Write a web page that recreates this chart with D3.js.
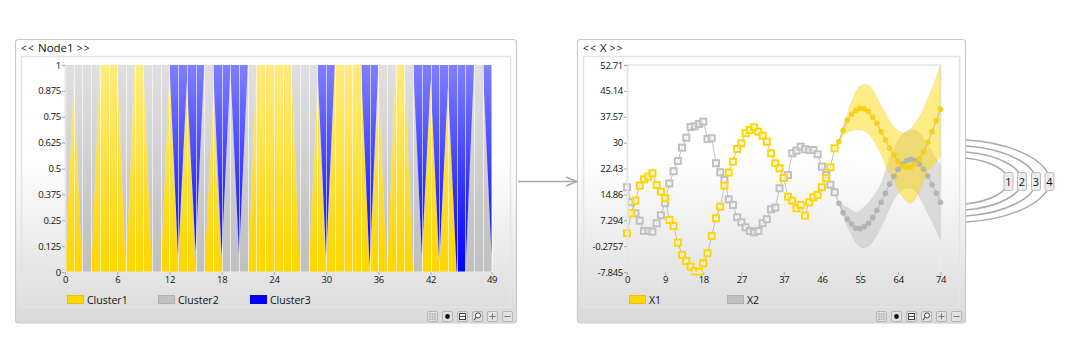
<!DOCTYPE html>
<html><head><meta charset="utf-8">
<script src="https://cdn.jsdelivr.net/npm/d3@7"></script>
<style>html,body{margin:0;padding:0;background:#fff}svg{display:block}text{font-family:"Open Sans","Noto Sans",sans-serif;fill:#111}</style>
</head><body><svg id="c" width="1070" height="363"></svg>
<script>
const cluster1=[0,.93,0,0,1,1,1,0,1,1,0,0,.98,0,.92,0,0,.82,0,0,0,0,1,1,1,1,1,0,0,.9,0,1,1,1,1,0,.92,0,1,1,0,0,.93,0,.9,0,0,0,0,0];
const cluster2=[1,.07,1,1,0,0,0,1,0,0,1,1,.02,.07,0,.1,1,.18,.08,.98,.08,1,0,0,0,0,0,1,1,.1,.07,0,0,0,0,.03,.08,1,0,0,1,.08,0,.05,0,0,0,1,1,.08];
const cluster3=[0,0,0,0,0,0,0,0,0,0,0,0,0,.93,.08,.9,0,0,.92,.02,.92,0,0,0,0,0,0,0,0,0,.93,0,0,0,0,.97,0,0,0,0,0,.92,.07,.95,.1,1,1,0,0,.92];
const clusterNames=["Cluster1","Cluster2","Cluster3"];
const clusterColors=["#FFD700","#C0C0C0","#0000FF"];
const clusterYTicks=[[0,"0"],[.125,"0.125"],[.25,"0.25"],[.375,"0.375"],[.5,"0.5"],[.625,"0.625"],[.75,"0.75"],[.875,"0.875"],[1,"1"]];
const clusterXTicks=[0,6,12,18,24,30,36,42,49];

const x1Values=[3.49,9.34,13.03,17.41,19.28,20.05,21.04,17.62,15.66,13.73,7.38,5.62,.74,-2.86,-4.61,-6.28,-7.63,-7.74,-5.29,-2.36,2.70,7.88,11.27,17.41,21.27,24.43,28.15,29.81,32.74,33.70,34.49,33.21,32.04,30.28,26.89,23.97,22.50,19.67,14.20,13.03,10.80,11.77,8.64,12.56,14.02,14.69,16.94,19.58,22.80,28.35,30.28,33.50,36.63,38.30,39.47,40.05,39.93,39.06,37.42,35.66,33.21,30.78,28.35,26.39,24.43,23.17,22.68,22.80,23.76,25.22,27.36,30.11,33.21,36.42,39.76];
const x2Values=[16.95,12.56,9.34,7.18,4.16,4.16,3.96,6.41,8.75,12.27,18.06,21.63,24.64,28.53,31.45,34.58,34.79,35.46,36.13,31.07,31.28,23.97,21.33,19.08,13.43,11.77,8.17,6.71,5.24,4.16,3.78,4.16,6.41,7.58,10.51,10.98,16.65,19.67,20.54,26.89,27.65,28.82,28.06,27.86,27.86,26.60,22.97,20.54,17.71,15.48,12.27,9.52,7.67,6.21,4.95,4.84,5.42,6.41,8.05,10.22,12.56,15.19,17.91,20.13,22.21,23.76,24.73,25.14,24.73,23.76,22.21,20.25,17.76,15.19,12.56];
const x1Upper=[30.28,34.87,38.59,41.98,44.91,46.58,47.07,46.78,45.41,43.27,40.73,38.59,36.34,34.67,33.50,32.91,32.91,34.20,35.66,37.60,40.05,42.98,45.90,49.30,52.71];
const x1Lower=[30.28,31.95,32.91,33.50,33.70,33.70,33.41,32.53,30.98,29.02,26.39,23.47,20.84,18.88,16.16,14.20,12.73,12.26,13.43,15.66,18.58,21.42,22.88,24.35,25.90];
const x2Upper=[12.27,11.77,11.09,10.30,9.52,10.10,11.27,12.44,14.02,15.86,18.11,21.71,25.42,28.35,30.78,32.53,33.41,33.70,33.70,32.91,31.28,29.32,27.36,25.14,23.47];
const x2Lower=[12.27,8.84,5.42,2.99,.74,-.43,-.72,-.23,1.03,2.99,5.42,7.88,10.80,13.23,14.98,16.16,16.65,16.65,15.95,14.20,11.77,9.34,6.88,4.25,1.53];
const firstPredicted=50;
const xTicksRight=[0,9,18,27,37,46,55,64,74];
const yTicksRight=[[-7.845,"-7.845"],[-.2757,"-0.2757"],[7.294,"7.294"],[14.86,"14.86"],[22.43,"22.43"],[30,"30"],[37.57,"37.57"],[45.14,"45.14"],[52.71,"52.71"]];
const seriesNames=["X1","X2"];
const seriesColors=["#FFD700","#C0C0C0"];
const outputLabels=["1","2","3","4"];

const svg=d3.select("#c"), defs=svg.append("defs");
const pg=defs.append("linearGradient").attr("id","panelBg").attr("x1",0).attr("x2",0).attr("y1",0).attr("y2",1);
pg.append("stop").attr("offset","0.42").attr("stop-color","#fff");
pg.append("stop").attr("offset","1").attr("stop-color","#dadada");
clusterColors.forEach((c,i)=>{
  const g=defs.append("linearGradient").attr("id","g"+i).attr("gradientUnits","userSpaceOnUse").attr("x1",0).attr("x2",0).attr("y1",65).attr("y2",272);
  g.append("stop").attr("offset",0).attr("stop-color",c).attr("stop-opacity",.5);
  g.append("stop").attr("offset",1).attr("stop-color",c).attr("stop-opacity",1);
});

function panel(px,pw,name){
  const g=svg.append("g");
  g.append("rect").attr("x",px+.5).attr("y",39.5).attr("width",pw-1).attr("height",283.5).attr("rx",3).attr("fill","url(#panelBg)").attr("stroke","#c9c9c9").attr("stroke-width",1.2);
  g.append("rect").attr("x",px+6.5).attr("y",56.5).attr("width",pw-13).attr("height",251).attr("fill","none").attr("stroke","#e4e4e4").attr("stroke-width",1.5);
  g.append("text").attr("x",px+6).attr("y",51.5).attr("font-size",10).attr("letter-spacing","1.5").text("<<");
  const nameText=g.append("text").attr("x",px+23).attr("y",51.5).attr("font-size",11.5).text(name);
  const nw=nameText.node().getComputedTextLength();
  g.append("text").attr("x",px+23+nw+3).attr("y",51.5).attr("font-size",10).attr("letter-spacing","1.5").text(">>");
  const bx=px+pw-90;
  ["grid","dot","split","find","plus","minus"].forEach((k,i)=>{
    const x=bx+i*15, y=311;
    const b=g.append("g").attr("transform",`translate(${x},${y})`);
    b.append("rect").attr("x",.5).attr("y",.5).attr("width",10).attr("height",10).attr("rx",1.5).attr("fill","#e2e2e2").attr("stroke","#b4b4b4");
    const dk="#777";
    if(k=="grid"){[3,5.5,8].forEach(a=>[3,5.5,8].forEach(c=>b.append("rect").attr("x",a-.8).attr("y",c-.8).attr("width",1.6).attr("height",1.6).attr("fill","#aaa")));}
    if(k=="dot")b.append("circle").attr("cx",5.5).attr("cy",5.5).attr("r",2.4).attr("fill","#111");
    if(k=="split"){b.append("rect").attr("x",2.5).attr("y",2.5).attr("width",6).attr("height",6).attr("fill","#fff").attr("stroke","#444");b.append("line").attr("x1",2).attr("x2",9).attr("y1",5.5).attr("y2",5.5).attr("stroke","#444");}
    if(k=="find"){b.append("circle").attr("cx",6).attr("cy",4.5).attr("r",2.6).attr("fill","#fff").attr("stroke","#444");b.append("line").attr("x1",4).attr("y1",6.5).attr("x2",2).attr("y2",9).attr("stroke","#444").attr("stroke-width",1.2);}
    if(k=="plus"||k=="minus")b.append("line").attr("x1",2.5).attr("x2",8.5).attr("y1",5.5).attr("y2",5.5).attr("stroke",dk);
    if(k=="plus")b.append("line").attr("x1",5.5).attr("x2",5.5).attr("y1",2.5).attr("y2",8.5).attr("stroke",dk);
  });
}
function legend(items,colors,xs){
  items.forEach((n,i)=>{
    svg.append("rect").attr("x",xs[i]+.5).attr("y",295.5).attr("width",16).attr("height",8).attr("fill",colors[i]).attr("stroke",d3.color(colors[i]).darker(.25));
    svg.append("text").attr("x",xs[i]+20).attr("y",304).attr("font-size",10.5).text(n);
  });
}
function styleAxis(g){
  g.selectAll(".domain").attr("stroke","#e6e6e6").attr("stroke-width",2);
  g.selectAll(".tick line").attr("stroke","#aaa");
  g.selectAll("text").attr("font-size",9.5).attr("font-family",'"Open Sans",sans-serif').attr("letter-spacing","-0.3").attr("fill","#111");
}

/* connector */
svg.append("line").attr("x1",518).attr("x2",577).attr("y1",181.5).attr("y2",181.5).attr("stroke","#aaa").attr("stroke-width",1.5);
svg.append("path").attr("d","M566,177 L577,181.5 L566,186").attr("fill","none").attr("stroke","#aaa").attr("stroke-width",1.5);

/* left chart */
panel(15,502,"Node1");
const lx=d3.scaleLinear().domain([0,49]).range([65,491.5]);
const ly=d3.scaleLinear().domain([0,1]).range([272,65]);
const rows=cluster1.map((v,i)=>({i,c0:v,c1:cluster2[i],c2:cluster3[i]}));
const stack=d3.stack().keys(["c0","c1","c2"])(rows);
const areaL=d3.area().x(d=>lx(d.data.i)).y0(d=>ly(d[0])).y1(d=>ly(d[1]));
svg.append("g").selectAll("path").data(stack).join("path").attr("d",areaL).attr("fill",(d,i)=>`url(#g${i})`);
svg.append("g").selectAll("line").data(rows).join("line")
  .attr("x1",d=>Math.round(lx(d.i))+.5).attr("x2",d=>Math.round(lx(d.i))+.5).attr("y1",65).attr("y2",272)
  .attr("stroke","#fff").attr("stroke-opacity",.62);
styleAxis(svg.append("g").attr("transform","translate(65,0)").call(d3.axisLeft(ly).tickValues(clusterYTicks.map(d=>d[0])).tickFormat(v=>clusterYTicks.find(d=>d[0]==v)[1]).tickSize(3).tickPadding(1)));
styleAxis(svg.append("g").attr("transform","translate(0,272)").call(d3.axisBottom(lx).tickValues(clusterXTicks).tickFormat(d3.format("d")).tickSize(3).tickPadding(1)));
legend(clusterNames,clusterColors,[67,158,250]);

/* right chart */
panel(577,389,"X");
const rx=d3.scaleLinear().domain([0,74]).range([627,940.5]);
const ry=d3.scaleLinear().domain([-7.845,52.71]).range([272,65]);
svg.append("path").attr("d",`M627,65H940.5V272`).attr("fill","none").attr("stroke","#ececec").attr("stroke-width",2);
const bandArea=d3.area().curve(d3.curveCatmullRom).x((d,i)=>rx(firstPredicted+i)).y0(d=>ry(d[0])).y1(d=>ry(d[1]));
[[x2Lower,x2Upper,1],[x1Lower,x1Upper,0]].forEach(([lo,hi,c])=>{
  svg.append("path").datum(lo.map((v,i)=>[v,hi[i]])).attr("d",bandArea).attr("fill",seriesColors[c]).attr("fill-opacity",c?.5:.48).attr("stroke","#bbb").attr("stroke-opacity",.3).attr("stroke-width",.6);
});
const lineR=d3.line().x((d,i)=>rx(i)).y(d=>ry(d));
[x2Values,x1Values].forEach(vals=>{
  svg.append("path").datum(vals).attr("d",lineR).attr("fill","none").attr("stroke","#a8a8a8").attr("stroke-width",.7);
});
[[x2Values,1],[x1Values,0]].forEach(([vals,c])=>{
  const g=svg.append("g");
  const pts=vals.map((v,i)=>({i,v}));
  g.selectAll("rect").data(pts.filter(d=>d.i<firstPredicted)).join("rect")
    .attr("x",d=>rx(d.i)-3).attr("y",d=>ry(d.v)-3).attr("width",6).attr("height",6)
    .attr("fill","#fff").attr("fill-opacity",.55).attr("stroke",seriesColors[c]).attr("stroke-width",2);
  g.selectAll("circle").data(pts.filter(d=>d.i>=firstPredicted)).join("circle")
    .attr("cx",d=>rx(d.i)).attr("cy",d=>ry(d.v)).attr("r",2.8)
    .attr("fill",c?"#b0b0b0":"#F7CF10").attr("fill-opacity",.9);
});
styleAxis(svg.append("g").attr("transform","translate(627,0)").call(d3.axisLeft(ry).tickValues(yTicksRight.map(d=>d[0])).tickFormat(v=>yTicksRight.find(d=>d[0]==v)[1]).tickSize(3).tickPadding(1)));
styleAxis(svg.append("g").attr("transform","translate(0,272)").call(d3.axisBottom(rx).tickValues(xTicksRight).tickFormat(d3.format("d")).tickSize(3).tickPadding(1)));
legend(seriesNames,seriesColors,[629,727]);

/* outputs */
const cx=[1008.5,1022,1036,1049.5];
outputLabels.forEach((l,i)=>{
  const top=158-i*6, bot=204+i*6, e=cx[i];
  svg.append("path").attr("d",`M966,${top}C${966+(e-966)*.6},${top+3} ${e},${top+(181-top)*.55} ${e},181C${e},${bot-(bot-181)*.55} ${966+(e-966)*.6},${bot-3} 966,${bot}`)
    .attr("fill","none").attr("stroke","#aaa").attr("stroke-width",1.5);
});
outputLabels.forEach((l,i)=>{
  const e=cx[i];
  svg.append("rect").attr("x",e-4.5).attr("y",172.5).attr("width",9).attr("height",18).attr("rx",2).attr("fill","#ececec").attr("stroke","#bbb");
  svg.append("text").attr("x",e).attr("y",185.5).attr("text-anchor","middle").attr("font-size",11).text(l);
});
</script></body></html>
